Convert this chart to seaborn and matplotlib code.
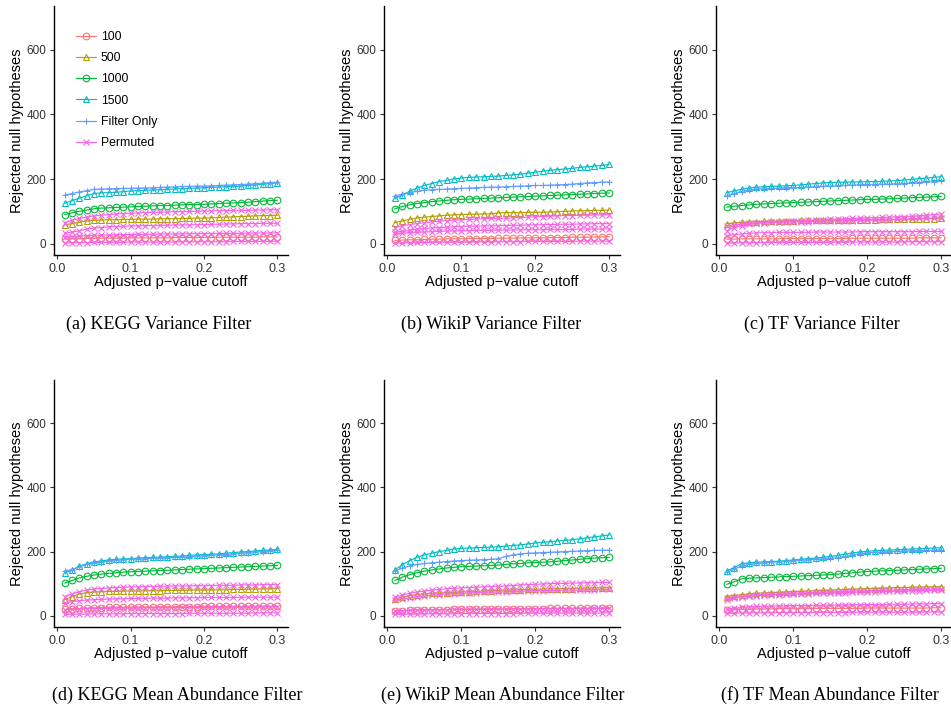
import numpy as np
import pandas as pd
import matplotlib
matplotlib.use("Agg")
import matplotlib.pyplot as plt
import seaborn as sns

# p-value cutoffs on the x axis
cutoffs = [0.01, 0.02, 0.03, 0.04, 0.05, 0.06, 0.07, 0.08, 0.09, 0.10,
           0.11, 0.12, 0.13, 0.14, 0.15, 0.16, 0.17, 0.18, 0.19, 0.20,
           0.21, 0.22, 0.23, 0.24, 0.25, 0.26, 0.27, 0.28, 0.29, 0.30]

series_names = ['100', '500', '1000', '1500', 'Filter Only', 'Permuted']
captions = ['(a) KEGG Variance Filter', '(b) WikiP Variance Filter', '(c) TF Variance Filter',
            '(d) KEGG Mean Abundance Filter', '(e) WikiP Mean Abundance Filter',
            '(f) TF Mean Abundance Filter']

# (a) KEGG variance filter
a_100 = [14,15,15,16,16,17,17,17,17,18,18,18,18,18,18,19,19,19,19,19,19,20,20,20,20,20,20,21,21,21]
a_500 = [58,62,66,70,72,73,74,74,75,75,76,76,76,77,77,77,78,78,79,79,80,81,82,83,84,85,86,87,87,88]
a_1000 = [90,95,100,104,108,110,111,112,113,114,115,116,117,118,118,119,120,121,121,122,123,124,125,126,127,128,130,132,133,134]
a_1500 = [125,133,141,148,155,157,158,159,161,163,164,165,166,167,168,169,170,171,172,173,174,175,176,177,178,180,182,184,186,188]
a_filter = [150,155,160,164,168,169,170,170,171,171,172,172,173,174,175,176,177,177,178,178,179,180,181,182,183,184,186,187,189,190]
a_perm1 = [65,72,78,82,86,88,90,92,93,94,95,96,97,97,98,99,99,100,100,101,101,102,102,103,103,103,104,104,105,105]
a_perm2 = [32,36,40,45,48,50,52,53,54,55,55,56,56,57,57,58,58,58,59,59,60,60,61,61,62,62,62,63,63,63]
a_perm3 = [20,22,24,25,26,27,27,28,28,28,29,29,29,30,30,30,30,31,31,31,31,32,32,32,32,33,33,33,33,34]
a_perm4 = [2,3,3,3,4,4,4,4,4,5,5,5,5,5,5,5,6,6,6,6,6,6,6,7,7,7,7,7,7,8]

# (b) WikiP variance filter
b_100 = [10,11,12,12,13,14,14,15,15,15,16,16,16,16,17,17,17,18,18,18,18,19,19,19,20,20,20,21,21,22]
b_500 = [65,70,75,79,82,84,86,88,89,90,91,91,92,92,95,96,96,96,97,97,97,98,99,100,101,102,102,103,103,104]
b_1000 = [108,115,120,124,127,130,132,134,136,137,138,139,140,141,142,143,144,145,146,147,148,149,150,151,152,153,154,155,156,157]
b_1500 = [140,150,162,172,180,186,192,196,200,203,205,206,207,208,209,211,213,215,218,221,224,227,229,231,233,236,238,240,242,245]
b_filter = [148,153,158,162,165,167,168,169,170,171,172,173,174,175,175,176,177,178,179,180,180,181,182,183,184,186,188,189,190,191]
b_perm1 = [50,55,59,62,65,67,69,71,73,74,75,76,77,78,78,79,80,81,82,83,84,85,86,87,87,88,88,89,89,90]
b_perm2 = [35,38,42,45,47,49,50,51,52,53,54,54,55,55,56,56,57,57,58,58,59,59,60,60,60,61,61,62,62,62]
b_perm3 = [30,32,34,35,36,37,38,39,39,40,40,41,41,41,42,42,42,43,43,43,43,44,44,44,44,45,45,45,45,46]
b_perm4 = [2,3,3,4,4,4,5,5,5,5,5,6,6,6,6,6,6,6,7,7,7,7,7,7,7,8,8,8,8,8]

# (c) TF variance filter
c_100 = [14,14,15,15,15,15,15,15,16,16,16,16,16,16,16,16,16,17,17,17,17,17,17,17,17,17,18,18,18,18]
c_500 = [62,64,66,67,68,69,70,70,71,71,72,72,72,73,73,73,73,74,74,74,74,75,75,75,76,76,76,77,77,78]
c_1000 = [113,116,118,120,122,123,124,125,126,127,128,129,130,131,132,133,134,135,136,137,137,138,139,140,141,142,143,144,145,146]
c_1500 = [158,163,168,172,175,176,177,178,179,180,182,184,186,188,189,190,190,191,191,192,192,193,194,195,197,199,201,203,205,207]
c_filter = [148,155,161,166,169,170,171,172,173,173,174,175,176,177,178,179,180,181,182,183,183,184,184,185,186,187,189,190,192,193]
c_perm1 = [40,50,56,60,63,65,67,68,69,70,71,72,73,74,75,76,77,78,79,80,80,81,82,83,84,85,86,88,90,92]
c_perm2 = [55,58,61,63,64,65,66,66,67,67,68,68,69,69,70,70,71,71,72,72,73,73,74,75,76,77,78,79,79,80]
c_perm3 = [25,28,30,32,33,34,34,35,35,35,35,35,36,36,36,36,36,36,37,37,37,37,37,37,37,37,38,38,38,38]
c_perm4 = [2,2,3,3,3,3,4,4,4,4,4,4,4,4,5,5,5,5,5,5,5,5,5,5,6,6,6,6,6,6]

# (d) KEGG mean abundance filter
d_100 = [20,22,23,24,25,25,26,26,26,27,27,27,27,28,28,28,28,28,28,29,29,29,29,29,29,30,30,30,30,30]
d_500 = [50,60,68,72,74,75,76,76,77,77,77,78,78,78,79,79,79,80,80,80,80,81,81,82,82,83,83,84,84,85]
d_1000 = [102,110,118,123,127,130,132,134,136,137,138,139,140,141,142,143,144,145,146,147,148,149,150,151,152,153,154,155,156,157]
d_1500 = [133,142,155,162,168,171,174,176,177,178,180,181,182,183,184,185,186,188,190,191,192,193,195,197,199,200,202,204,205,207]
d_filter = [140,144,152,160,165,168,171,173,175,176,177,178,179,180,181,182,183,184,186,187,189,190,191,193,195,197,199,200,202,204]
d_perm1 = [60,68,75,80,83,85,87,88,89,90,90,91,91,92,92,93,93,93,94,94,94,95,95,95,96,96,96,97,97,97]
d_perm2 = [40,44,47,49,50,51,52,53,53,54,54,54,55,55,55,56,56,56,56,57,57,57,57,57,58,58,58,58,58,58]
d_perm3 = [18,20,21,22,22,23,23,24,24,24,24,25,25,25,25,25,26,26,26,26,26,27,27,27,27,27,27,28,28,28]
d_perm4 = [4,5,5,5,6,6,6,6,6,7,7,7,7,7,7,7,7,8,8,8,8,8,8,8,8,8,9,9,9,9]

# (e) WikiP mean abundance filter
e_100 = [15,16,17,18,18,19,19,19,20,20,20,20,21,21,21,21,22,22,22,22,22,23,23,23,23,24,24,24,24,25]
e_500 = [52,58,63,66,68,70,71,72,73,74,75,76,77,78,79,80,80,81,82,82,83,84,84,85,85,86,86,87,87,88]
e_1000 = [110,120,128,134,139,143,146,149,151,153,154,155,156,157,158,160,162,163,165,166,167,168,170,172,174,176,178,180,181,182]
e_1500 = [143,158,172,182,190,195,200,204,208,210,211,212,213,214,215,217,219,221,224,227,229,231,233,235,237,240,243,246,249,252]
e_filter = [140,148,155,160,163,165,167,169,171,172,173,174,175,176,178,185,190,193,195,196,197,198,199,200,201,202,203,204,204,205]
e_perm1 = [58,64,70,74,77,80,82,84,86,87,88,89,90,91,92,93,94,96,97,98,99,100,101,101,102,102,103,103,104,104]
e_perm2 = [48,52,56,60,62,64,66,68,69,70,71,72,73,74,74,75,76,77,77,78,78,79,79,80,80,80,81,81,82,82]
e_perm3 = [15,16,17,18,18,19,19,19,20,20,20,20,20,21,21,21,21,21,21,22,22,22,22,22,22,22,22,23,23,23]
e_perm4 = [4,5,5,5,6,6,6,6,6,7,7,7,7,7,7,7,7,8,8,8,8,8,8,8,8,8,8,8,9,9]

# (f) TF mean abundance filter
f_100 = [18,19,20,20,21,21,21,22,22,22,22,22,23,23,23,23,23,23,23,24,24,24,24,24,24,24,24,24,25,25]
f_500 = [60,63,66,68,70,71,72,73,74,75,76,77,78,79,80,81,82,83,84,85,85,86,87,88,88,89,89,90,90,91]
f_1000 = [98,106,115,117,118,119,120,121,122,123,124,125,126,127,128,130,132,134,136,138,139,140,141,142,143,144,145,146,147,148]
f_1500 = [140,150,162,165,167,168,169,170,172,174,176,178,180,182,185,188,192,196,199,201,203,204,205,206,207,208,209,210,211,212]
f_filter = [135,145,155,160,163,165,167,168,170,172,174,175,176,177,179,181,184,190,194,196,198,199,200,201,202,203,203,204,204,205]
f_perm1 = [50,55,60,63,65,66,67,68,69,70,71,72,73,74,75,75,76,77,78,78,79,80,80,81,81,82,83,83,84,85]
f_perm2 = [55,58,60,62,63,64,65,66,67,68,68,69,70,70,71,72,72,73,74,74,75,76,76,77,77,78,78,79,79,80]
f_perm3 = [20,23,26,28,29,30,30,31,31,32,32,32,33,33,33,34,34,34,35,35,35,35,36,36,36,37,37,37,38,38]
f_perm4 = [8,8,9,9,9,9,9,10,10,10,10,10,10,10,10,10,10,11,11,11,11,11,11,11,11,11,11,12,12,12]

panel_data = [
    ([a_100, a_500, a_1000, a_1500, a_filter], [a_perm1, a_perm2, a_perm3, a_perm4]),
    ([b_100, b_500, b_1000, b_1500, b_filter], [b_perm1, b_perm2, b_perm3, b_perm4]),
    ([c_100, c_500, c_1000, c_1500, c_filter], [c_perm1, c_perm2, c_perm3, c_perm4]),
    ([d_100, d_500, d_1000, d_1500, d_filter], [d_perm1, d_perm2, d_perm3, d_perm4]),
    ([e_100, e_500, e_1000, e_1500, e_filter], [e_perm1, e_perm2, e_perm3, e_perm4]),
    ([f_100, f_500, f_1000, f_1500, f_filter], [f_perm1, f_perm2, f_perm3, f_perm4]),
]

# ggplot-style hue colours and shapes
colors = ['#F8766D', '#B79F00', '#00BA38', '#00BFC4', '#619CFF', '#F564E3']
markers = ['o', '^', 'o', '^', '+', 'x']

sns.set_theme(style="ticks")
plt.rcParams['font.family'] = ['Liberation Sans', 'DejaVu Sans']

fig = plt.figure(figsize=(9.51, 7.09), dpi=100)

# axes boxes in pixels: left, top, right, bottom
W, H = 951, 709
boxes = [(54, 6, 288, 255), (384, 6, 620, 255), (716, 6, 952, 255),
         (54, 380, 288, 627), (384, 380, 620, 627), (716, 380, 952, 627)]
cap_pos = [(159, 324), (491, 324), (822, 324), (177, 695), (503, 695), (830, 695)]


def draw_series(ax, y, color, marker):
    sns.lineplot(x=cutoffs, y=y, color=color, marker=marker, markersize=4.8,
                 markerfacecolor='none', markeredgecolor=color, markeredgewidth=0.8,
                 linewidth=0.85, estimator=None, legend=False, ax=ax)
    return ax.lines[-1]


for i, (main, perms) in enumerate(panel_data):
    l, t, r, b = boxes[i]
    ax = fig.add_axes([l / W, (H - b) / H, (r - l) / W, (b - t) / H])
    handles = []
    for k, y in enumerate(main):
        handles.append(draw_series(ax, y, colors[k], markers[k]))
    for y in perms:
        h = draw_series(ax, y, colors[5], markers[5])
    handles.append(h)

    ax.set_xlim(-0.0045, 0.3145)
    ax.set_ylim(-35, 735)
    ax.set_xticks([0.0, 0.1, 0.2, 0.3])
    ax.set_xticklabels(['0.0', '0.1', '0.2', '0.3'])
    ax.set_yticks([0, 200, 400, 600])
    ax.set_xlabel('Adjusted p\u2212value cutoff', fontsize=10.5, labelpad=0.5, color='black')
    ax.set_ylabel('Rejected null hypotheses', fontsize=10.5, labelpad=1.5, color='black')
    ax.tick_params(direction='out', length=3, width=0.8, color='#333333',
                   labelcolor='#333333', pad=2.5)
    ax.tick_params(axis='x', labelsize=9)
    ax.tick_params(axis='y', labelsize=8.5)
    sns.despine(ax=ax)
    for s in ['left', 'bottom']:
        ax.spines[s].set_color('black')
        ax.spines[s].set_linewidth(1.0)

    if i == 0:
        leg = ax.legend(handles, series_names, loc='upper left', bbox_to_anchor=(0.075, 0.92),
                        frameon=False, fontsize=8.8, labelspacing=0.76, handlelength=1.6,
                        handletextpad=0.4, numpoints=1, borderaxespad=0)
        for txt in leg.get_texts():
            txt.set_color('black')

    cx, cy = cap_pos[i]
    fig.text(cx / W, 1 - cy / H, captions[i], ha='center', va='center',
             family='Liberation Serif', fontsize=13, color='black')

fig.savefig('out.png', dpi=100)
